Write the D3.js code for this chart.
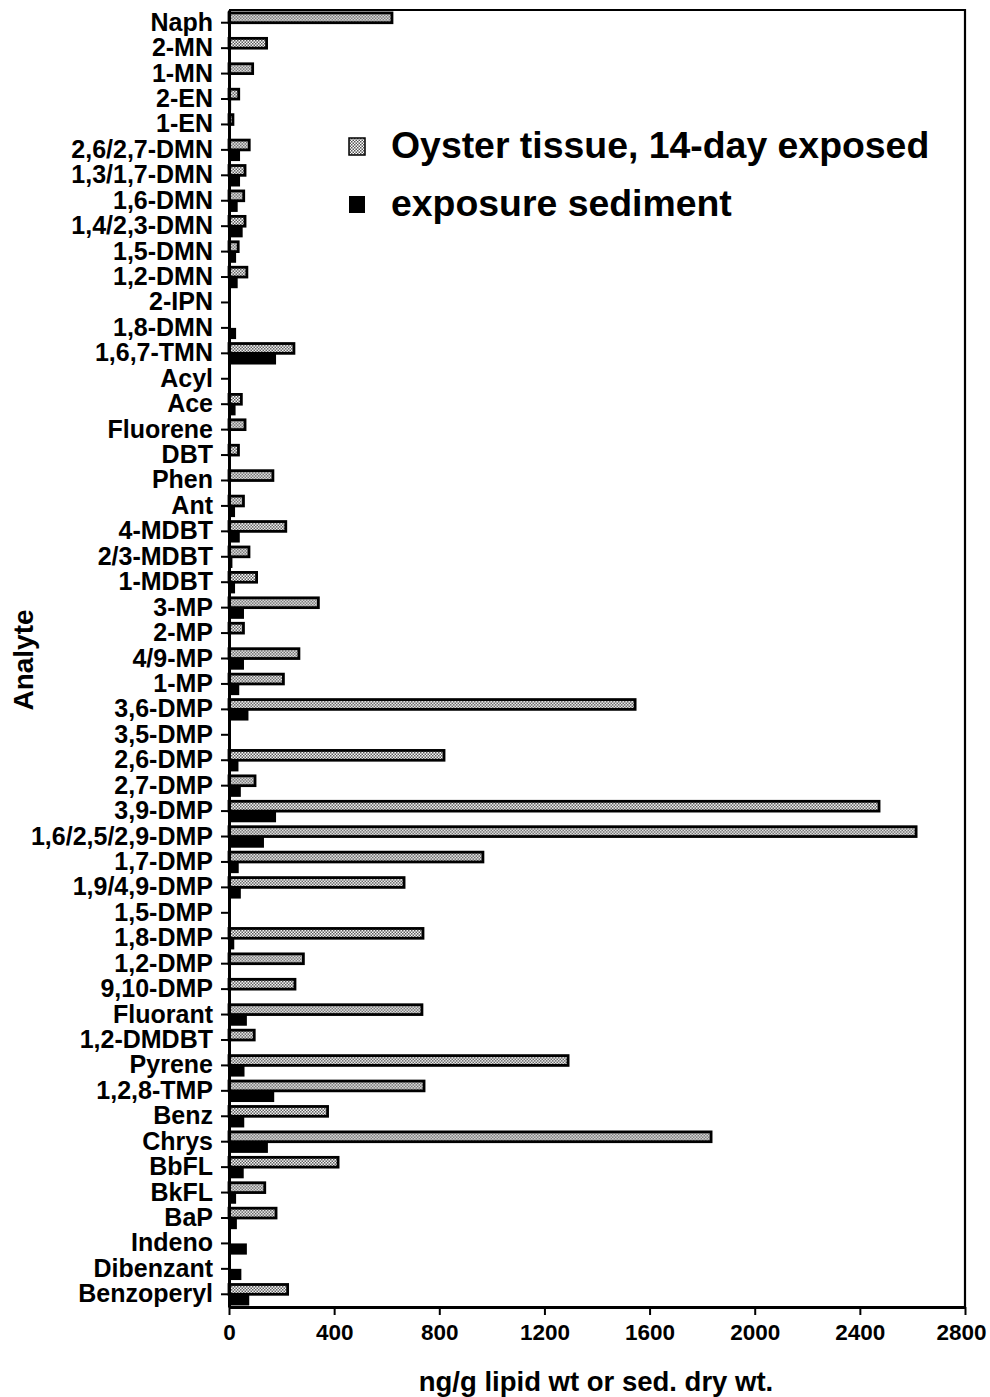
<!DOCTYPE html>
<html>
<head>
<meta charset="utf-8">
<script src="https://cdn.jsdelivr.net/npm/d3@7"></script>
<style>
  html, body { margin: 0; padding: 0; background: #fff; }
  svg { display: block; }
  text { font-family: "Liberation Sans", Arial, Helvetica, sans-serif; font-weight: bold; fill: #000; }
</style>
</head>
<body>
<svg id="chart" width="990" height="1397"></svg>
<script>
// Analytes, top to bottom
const analytes = [
  "Naph", "2-MN", "1-MN", "2-EN", "1-EN", "2,6/2,7-DMN", "1,3/1,7-DMN", "1,6-DMN",
  "1,4/2,3-DMN", "1,5-DMN", "1,2-DMN", "2-IPN", "1,8-DMN", "1,6,7-TMN", "Acyl", "Ace",
  "Fluorene", "DBT", "Phen", "Ant", "4-MDBT", "2/3-MDBT", "1-MDBT", "3-MP", "2-MP",
  "4/9-MP", "1-MP", "3,6-DMP", "3,5-DMP", "2,6-DMP", "2,7-DMP", "3,9-DMP",
  "1,6/2,5/2,9-DMP", "1,7-DMP", "1,9/4,9-DMP", "1,5-DMP", "1,8-DMP", "1,2-DMP",
  "9,10-DMP", "Fluorant", "1,2-DMDBT", "Pyrene", "1,2,8-TMP", "Benz", "Chrys",
  "BbFL", "BkFL", "BaP", "Indeno", "Dibenzant", "Benzoperyl"
];

// Oyster tissue after 14-day exposure (ng/g lipid wt)
const oysterTissue = [
  620, 143, 90, 37, 15, 77, 61, 56,
  61, 35, 68, 0, 0, 247, 0, 47,
  61, 36, 167, 55, 216, 76, 105, 340, 55,
  266, 207, 1545, 0, 818, 99, 2473,
  2614, 966, 666, 0, 738, 283,
  251, 734, 96, 1290, 742, 375, 1834,
  415, 136, 179, 0, 0, 223
];

// Exposure sediment (ng/g sed. dry wt)
const exposureSediment = [
  0, 0, 0, 8, 5, 42, 42, 33,
  52, 27, 33, 0, 27, 179, 0, 25,
  5, 3, 5, 23, 41, 13, 23, 57, 5,
  57, 39, 74, 0, 36, 45, 179,
  133, 37, 45, 0, 20, 6,
  3, 68, 0, 59, 172, 58, 148,
  56, 27, 30, 68, 47, 77
];

const xTicks = [0, 400, 800, 1200, 1600, 2000, 2400, 2800];

const seriesNames = ["Oyster tissue, 14-day exposed", "exposure sediment"];
const seriesKeys = ["oyster", "sediment"];

const svg = d3.select("#chart");

const plot = { left: 229, right: 965, top: 10, bottom: 1307 };

const x = d3.scaleLinear().domain([0, 2800]).range([plot.left, plot.right]);
const y = d3.scaleBand().domain(analytes).range([plot.top, plot.bottom])
  .paddingInner(0.12).paddingOuter(0.06);
const ySub = d3.scaleBand().domain(seriesKeys).range([0, y.bandwidth()]);

// stipple fill for the oyster bars
const defs = svg.append("defs");
const pat = defs.append("pattern")
  .attr("id", "stipple")
  .attr("patternUnits", "userSpaceOnUse")
  .attr("width", 3).attr("height", 3);
pat.append("rect").attr("width", 3).attr("height", 3).attr("fill", "#fff");
pat.append("rect").attr("x", 0).attr("y", 0).attr("width", 1.5).attr("height", 1.5).attr("fill", "#555");
pat.append("rect").attr("x", 1.5).attr("y", 1.5).attr("width", 1.5).attr("height", 1.5).attr("fill", "#555");

const rows = analytes.map((a, i) => ({
  analyte: a,
  oyster: oysterTissue[i],
  sediment: exposureSediment[i]
}));

// frame: top and right edges
svg.append("path")
  .attr("d", `M${plot.left},${plot.top}H${plot.right}V${plot.bottom}`)
  .attr("fill", "none").attr("stroke", "#000").attr("stroke-width", 2.2);

// bars
const g = svg.append("g");
const groups = g.selectAll("g.row").data(rows).join("g")
  .attr("class", "row")
  .attr("transform", d => `translate(0,${y(d.analyte)})`);

groups.filter(d => d.sediment > 0).append("rect")
  .attr("x", x(0))
  .attr("y", ySub("sediment"))
  .attr("width", d => x(d.sediment) - x(0))
  .attr("height", ySub.bandwidth())
  .attr("fill", "#000");

groups.filter(d => d.oyster > 0).append("rect")
  .attr("x", x(0))
  .attr("y", ySub("oyster") + 1.4)
  .attr("width", d => x(d.oyster) - x(0))
  .attr("height", ySub.bandwidth() - 1.4)
  .attr("fill", "url(#stipple)")
  .attr("stroke", "#000")
  .attr("stroke-width", 2.8);

// left axis
const yAxis = svg.append("g")
  .attr("transform", `translate(${plot.left},0)`)
  .call(d3.axisLeft(y).tickSize(8).tickPadding(8).tickSizeOuter(0));
yAxis.select(".domain").attr("stroke-width", 3);
yAxis.selectAll(".tick line").attr("stroke-width", 2);
yAxis.selectAll(".tick text")
  .attr("font-size", 25)
  .attr("font-family", "'Liberation Sans', Arial, sans-serif")
  .attr("font-weight", "bold")
  .attr("fill", "#000");

// bottom axis
const xAxis = svg.append("g")
  .attr("transform", `translate(0,${plot.bottom})`)
  .call(d3.axisBottom(x).tickValues(xTicks).tickFormat(d3.format("d")).tickSize(8).tickPadding(9).tickSizeOuter(0));
xAxis.select(".domain").attr("stroke-width", 3);
xAxis.selectAll(".tick line").attr("stroke-width", 2);
xAxis.selectAll(".tick text")
  .attr("font-size", 22.5)
  .attr("font-family", "'Liberation Sans', Arial, sans-serif")
  .attr("font-weight", "bold")
  .attr("fill", "#000")
  .attr("dx", d => d === 2800 ? -4 : 0);

// axis titles
svg.append("text")
  .attr("x", 596).attr("y", 1391)
  .attr("text-anchor", "middle")
  .attr("font-size", 27.5)
  .text("ng/g lipid wt or sed. dry wt.");

svg.append("text")
  .attr("transform", "translate(33,660) rotate(-90)")
  .attr("text-anchor", "middle")
  .attr("font-size", 28)
  .text("Analyte");

// legend
const legend = svg.append("g");
const legendRows = [
  { key: "oyster", name: seriesNames[0], y: 146 },
  { key: "sediment", name: seriesNames[1], y: 204 }
];
legendRows.forEach(r => {
  legend.append("rect")
    .attr("x", 349).attr("y", r.y - 8)
    .attr("width", 16).attr("height", 17)
    .attr("fill", r.key === "oyster" ? "url(#stipple)" : "#000")
    .attr("stroke", "#000")
    .attr("stroke-width", r.key === "oyster" ? 1.5 : 0);
  legend.append("text")
    .attr("x", 391).attr("y", r.y + 12)
    .attr("font-size", 37.4)
    .text(r.name);
});
</script>
</body>
</html>
